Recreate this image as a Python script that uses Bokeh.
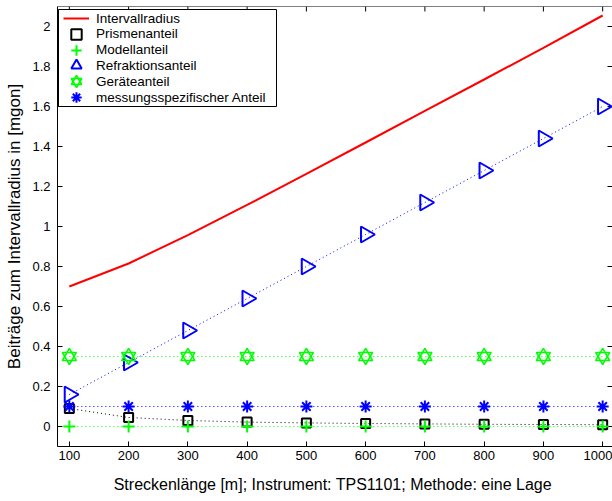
import math
from bokeh.plotting import figure
from bokeh.models import (FixedTicker, Legend, LegendItem, Span, BoxAnnotation, Node)
from bokeh.embed import file_html
from bokeh.resources import INLINE

# ---- data ----
distance = [100, 200, 300, 400, 500, 600, 700, 800, 900, 1000]
intervallradius = [0.70, 0.815, 0.957, 1.108, 1.263, 1.42, 1.578, 1.735, 1.893, 2.055]
prismenanteil = [0.09, 0.045, 0.03, 0.022, 0.018, 0.015, 0.013, 0.011, 0.01, 0.009]
modellanteil = [0.0, 0.0, 0.0, 0.0, 0.0, 0.0, 0.0, 0.0, 0.0, 0.0]
refraktionsanteil = [0.16, 0.32, 0.48, 0.64, 0.80, 0.96, 1.12, 1.28, 1.44, 1.60]
geraeteanteil = [0.35, 0.35, 0.35, 0.35, 0.35, 0.35, 0.35, 0.35, 0.35, 0.35]
messungsanteil = [0.10, 0.10, 0.10, 0.10, 0.10, 0.10, 0.10, 0.10, 0.10, 0.10]

series_names = ["Intervallradius", "Prismenanteil", "Modellanteil",
                "Refraktionsanteil", "Geräteanteil", "messungsspezifischer Anteil"]

x_ticks = [100, 200, 300, 400, 500, 600, 700, 800, 900, 1000]
x_tick_labels = ["100", "200", "300", "400", "500", "600", "700", "800", "900", "1000"]
y_ticks = [0, 0.2, 0.4, 0.6, 0.8, 1, 1.2, 1.4, 1.6, 1.8, 2]
y_tick_labels = ["0", "0.2", "0.4", "0.6", "0.8", "1", "1.2", "1.4", "1.6", "1.8", "2"]

x_label = "Streckenlänge  [m]; Instrument: TPS1101; Methode: eine Lage"
y_label = "Beiträge zum Intervallradius in [mgon]"

x_start, x_end = 80, 1016.6
y_start, y_end = -0.1, 2.1

FONT = "Liberation Sans"
RED = "#ff0000"
GREEN = "#00ff00"
BLUE = "#0000ff"
BLACK = "#000000"

W, H = 612, 501
B_LEFT, B_BOTTOM, B_TOP, B_RIGHT = 57, 55, 6, 0
FRAME_H = H - B_TOP - B_BOTTOM

p = figure(width=W, height=H, x_range=(x_start, x_end), y_range=(y_start, y_end),
           output_backend="svg", toolbar_location=None,
           min_border_left=B_LEFT, min_border_right=B_RIGHT,
           min_border_top=B_TOP, min_border_bottom=B_BOTTOM)
p.outline_line_color = None
p.xgrid.visible = False
p.ygrid.visible = False
p.background_fill_color = "white"
p.border_fill_color = "white"

def style_axis(ax, ticks, labels):
    ax.ticker = FixedTicker(ticks=ticks)
    ax.major_label_overrides = dict(zip(ticks, labels))
    ax.major_tick_in = 5
    ax.major_tick_out = 0
    ax.minor_tick_in = 0
    ax.minor_tick_out = 0
    ax.major_tick_line_color = BLACK
    ax.axis_line_color = BLACK
    ax.axis_line_width = 1
    ax.major_label_text_font = FONT
    ax.major_label_text_color = BLACK
    ax.major_label_text_font_size = "13px"
    ax.axis_label_text_font = FONT
    ax.axis_label_text_font_style = "normal"
    ax.axis_label_text_color = BLACK

xa = p.xaxis[0]
ya = p.yaxis[0]
style_axis(xa, x_ticks, x_tick_labels)
style_axis(ya, y_ticks, y_tick_labels)
xa.axis_label = x_label
ya.axis_label = y_label
xa.axis_label_text_font_size = "16px"
ya.axis_label_text_font_size = "17px"
xa.major_label_standoff = 4
ya.major_label_standoff = 7
xa.axis_label_standoff = 13
ya.axis_label_standoff = 5

# top frame line with inward ticks, inward ticks on the right side
p.add_layout(Span(location=y_end, dimension="width", line_color=BLACK, line_width=1))
p.ray(x=x_ticks, y=[y_end] * len(x_ticks), length=5, length_units="screen",
      angle=-math.pi / 2, line_color=BLACK, line_width=1)
p.ray(x=[x_end] * len(y_ticks), y=y_ticks, length=5, length_units="screen",
      angle=math.pi, line_color=BLACK, line_width=1)

# dotted connecting lines
dash = "1 3"
p.line(distance, prismenanteil, line_color=BLACK, line_dash=dash, line_width=1)
p.line(distance, modellanteil, line_color=GREEN, line_dash=dash, line_width=1)
p.line(distance, refraktionsanteil, line_color=BLUE, line_dash=dash, line_width=1)
p.line(distance, geraeteanteil, line_color=GREEN, line_dash=dash, line_width=1)
p.line(distance, messungsanteil, line_color=BLUE, line_dash=dash, line_width=1)

r_int = p.line(distance, intervallradius, line_color=RED, line_width=2)
r_pri = p.scatter(distance, prismenanteil, marker="square", size=9,
                  fill_color=None, line_color=BLACK, line_width=2)
r_mod = p.scatter(distance, modellanteil, marker="cross", size=12,
                  line_color=GREEN, line_width=2)
r_ref = p.scatter(distance, refraktionsanteil, marker="triangle", size=16,
                  angle=-math.pi / 2, fill_color=None, line_color=BLUE, line_width=2)
r_ger1 = p.scatter(distance, geraeteanteil, marker="triangle", size=14,
                   fill_color=None, line_color=GREEN, line_width=1.6)
r_ger2 = p.scatter(distance, geraeteanteil, marker="inverted_triangle", size=14,
                   fill_color=None, line_color=GREEN, line_width=1.6)
r_mes = p.scatter(distance, messungsanteil, marker="asterisk", size=12,
                  line_color=BLUE, line_width=2)

# legend frame
box = BoxAnnotation(
    left=Node(target="frame", symbol="left", offset=1),
    right=Node(target="frame", symbol="left", offset=219),
    top=Node(target="frame", symbol="top", offset=3),
    bottom=Node(target="frame", symbol="top", offset=100),
    fill_color="white", fill_alpha=1.0, line_color=BLACK, line_width=1, line_alpha=1.0)
p.add_layout(box)

# legend entries: one row each, 15.8 px apart, large glyph boxes for full-size markers
G, GW, ROW, FIRST_ROW = 28, 26, 15.8, 12
legend_renderers = [[r_int], [r_pri], [r_mod], [r_ref], [r_ger1, r_ger2], [r_mes]]
for i, (name, rends) in enumerate(zip(series_names, legend_renderers)):
    row_center = FIRST_ROW + ROW * i
    leg = Legend(items=[LegendItem(label=name, renderers=rends)],
                 location=(6, FRAME_H - row_center - G / 2))
    leg.label_text_font = FONT
    leg.label_text_font_size = "13.5px"
    leg.label_text_color = BLACK
    leg.label_height = 16
    leg.glyph_height = G
    leg.glyph_width = GW
    leg.spacing = 0
    leg.padding = 0
    leg.margin = 0
    leg.label_standoff = 7
    leg.border_line_color = None
    leg.background_fill_color = None
    leg.background_fill_alpha = 0
    p.add_layout(leg, "center")

open("out.html", "w").write(file_html(p, INLINE))
